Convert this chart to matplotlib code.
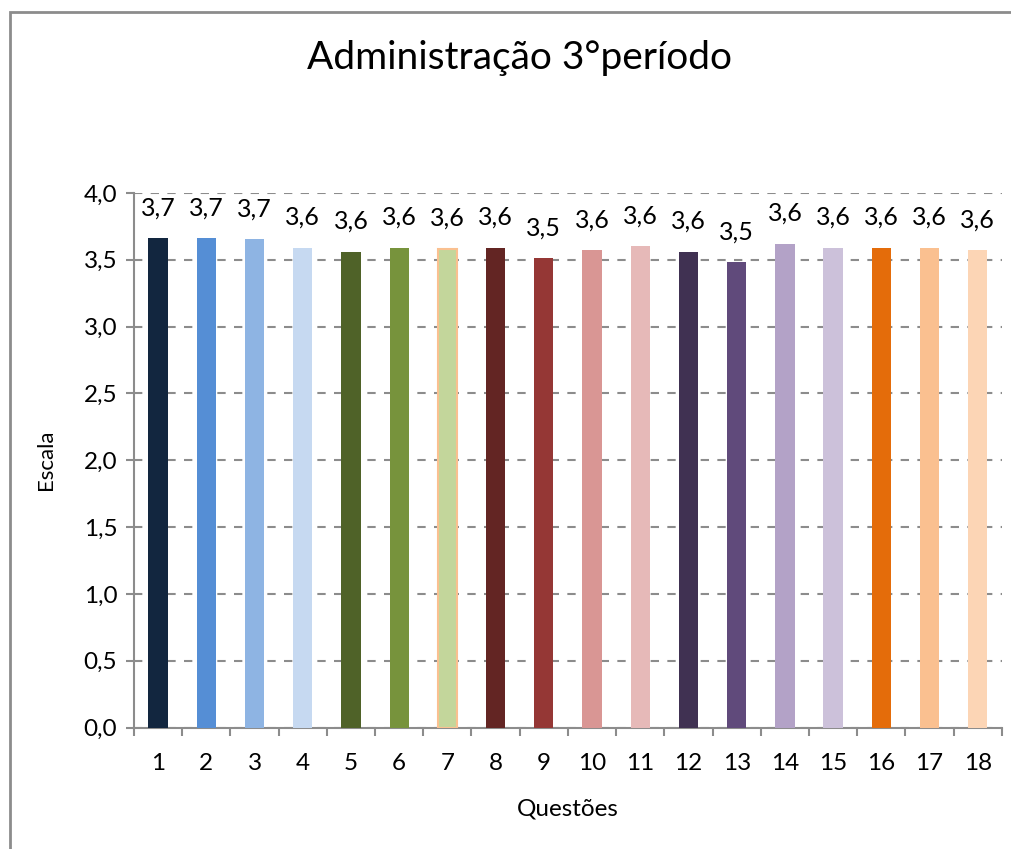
import matplotlib
matplotlib.use("Agg")
import matplotlib.pyplot as plt
from matplotlib.patches import Rectangle

plt.rcParams['font.family'] = ['Lato', 'DejaVu Sans']

questoes = [str(i) for i in range(1, 19)]
valores = [3.66, 3.66, 3.652, 3.59, 3.56, 3.59, 3.58, 3.59, 3.51,
           3.57, 3.60, 3.56, 3.48, 3.62, 3.59, 3.59, 3.59, 3.57]
cores = ['#12263F', '#558ED5', '#8EB4E3', '#C6D9F1', '#4F6228', '#77933C',
         '#C3D69B', '#632523', '#953735', '#D99694', '#E6B9B8', '#403152',
         '#604A7B', '#B3A2C7', '#CCC1DA', '#E46C0A', '#FAC090', '#FCD5B5']
bordas = ['none'] * 18
bordas[6] = '#FAC090'
y_ticks = [0, 0.5, 1.0, 1.5, 2.0, 2.5, 3.0, 3.5, 4.0]

fig = plt.figure(figsize=(10.11, 8.49), dpi=100)
fig.patches.append(Rectangle((10 / 1011, -0.05), 1.1, 1 - 12 / 849 + 0.05,
                             transform=fig.transFigure, fill=False,
                             edgecolor='#8c8c8c', linewidth=2))

ax = fig.add_axes([0.1325, 0.1431, 0.8585, 0.6296])
x = range(len(questoes))
ax.bar(x, valores, width=0.4, color=cores, edgecolor=bordas, linewidth=1.5, zorder=3)

for xi, v in zip(x, valores):
    ax.annotate(('%.1f' % v).replace('.', ','), (xi, v), xytext=(0, 22),
                textcoords='offset points', ha='center', va='center', fontsize=18)

ax.set_ylim(0, 4)
ax.set_xlim(-0.5, 17.5)
ax.set_yticks(y_ticks)
ax.set_yticklabels([('%.1f' % t).replace('.', ',') for t in y_ticks], fontsize=17.5)
ax.set_xticks([i + 0.5 for i in range(-1, 18)], minor=False)
ax.set_xticklabels([])
ax.set_xticks(list(x), minor=True)
ax.set_xticklabels(questoes, minor=True, fontsize=17.5)
ax.tick_params(axis='x', which='minor', length=0, pad=18)
ax.tick_params(axis='x', which='major', length=6, color='#8c8c8c', width=1.5)
ax.tick_params(axis='y', length=6, color='#8c8c8c', width=1.5, pad=6)

ax.yaxis.grid(True, linestyle=(0, (4, 4)), color='#8c8c8c', linewidth=1.5, zorder=0)
for s in ['top', 'right']:
    ax.spines[s].set_visible(False)
for s in ['left', 'bottom']:
    ax.spines[s].set_color('#8c8c8c')
    ax.spines[s].set_linewidth(1.5)

ax.set_ylabel('Escala', fontsize=16, labelpad=20)
ax.set_xlabel('Questões', fontsize=17.5, labelpad=18)
fig.text(0.514, 1 - 58 / 849, 'Administração 3°período', ha='center', va='center', fontsize=28)

fig.savefig('out.png', dpi=100)
